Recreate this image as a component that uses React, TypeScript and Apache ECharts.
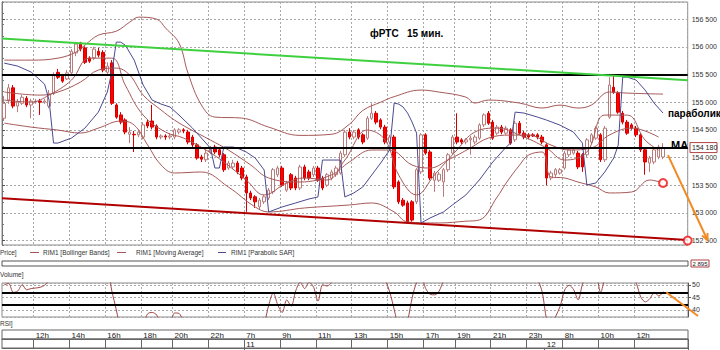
import React, { useEffect, useRef } from 'react';
import * as echarts from 'echarts';

const FONT = 'Liberation Sans, Arial, sans-serif';

// ---- time categories (15-minute bars) ----
const sessionDays = ['10', '11', '12'];
const sessionStarts = ['10:15', '07:00', '07:00'];
const sessionEnds = ['23:45', '23:45', '14:45'];
const clearingBar = '18:45';

const timeTicks = [
  '10 12:00', '10 14:00', '10 16:00', '10 18:00', '10 20:00', '10 22:00',
  '11 07:00', '11 09:00', '11 11:00', '11 13:00', '11 15:00', '11 17:00', '11 19:00', '11 21:00', '11 23:00',
  '12 08:00', '12 10:00', '12 12:00',
];
const dayTicks = ['11 07:00', '12 07:00'];

// ---- candles ----
const open = [
  154710, 155040, 155260, 154930, 154980, 155070, 154950, 155000, 155020, 155000,
  154930, 155160, 155540, 155470, 155420, 155530, 155890, 156070, 155980, 155800,
  155800, 155920, 155900, 155540, 155710, 154950, 154770, 154680, 154420, 154420,
  154410, 154370, 154640, 154660, 154570, 154370, 154390, 154370, 154370, 154460,
  154500, 154460, 154370, 154230, 154010, 153960, 154100, 154190, 154140, 154050,
  153810, 153830, 153900, 153810, 153650, 153360, 153290, 153110, 153200, 153270,
  153380, 153690, 153810, 153410, 153690, 153630, 153450, 153830, 153740, 153690,
  153810, 153630, 153500, 153630, 153690, 153720, 154050, 154460, 154370, 154500,
  154410, 154350, 154710, 154800, 154680, 154550, 154280, 154370, 153560, 153230,
  153180, 153200, 153200, 153740, 154410, 154100, 153590, 153590, 153560, 153780,
  154080, 154370, 154320, 154280, 154320, 154280, 154350, 154590, 154800, 154640,
  154440, 154550, 154440, 154500, 154320, 154620, 154440, 154410, 154410, 154410,
  154370, 154230, 153630, 153690, 153720, 153810, 154050, 154080, 154080, 154050,
  154050, 154280, 154350, 154410, 153960, 154730, 155270, 155160, 154800, 154640,
  154590, 154530, 154410, 154140, 153900, 153920, 154010, 154010,
];
const close = [
  154980, 155260, 154930, 155000, 155090, 154950, 155020, 155020, 155000, 155020,
  155150, 155490, 155450, 155380, 155530, 155920, 156050, 155960, 155720, 155740,
  155960, 155850, 155580, 155650, 154980, 154730, 154640, 154460, 154460, 154410,
  154460, 154590, 154570, 154550, 154370, 154390, 154370, 154390, 154500, 154500,
  154480, 154280, 154230, 153990, 153970, 154080, 154170, 154100, 154050, 153780,
  153900, 153900, 153740, 153630, 153360, 153270, 153200, 153230, 153290, 153410,
  153780, 153810, 153500, 153540, 153450, 153450, 153830, 153630, 153630, 153810,
  153590, 153450, 153690, 153740, 153810, 154080, 154460, 154370, 154460, 154370,
  154280, 154710, 154800, 154640, 154550, 154280, 154370, 153470, 153200, 153140,
  152840, 152870, 153780, 154410, 154080, 153630, 153720, 153700, 153780, 154050,
  154370, 154280, 154280, 154320, 154350, 154370, 154590, 154770, 154620, 154350,
  154550, 154460, 154530, 154260, 154620, 154440, 154370, 154370, 154390, 154370,
  154280, 153630, 153720, 153780, 153780, 154080, 154140, 154140, 153830, 153830,
  154320, 154410, 154530, 153960, 154530, 155310, 155180, 154820, 154640, 154440,
  154530, 154410, 154140, 153920, 153990, 154140, 154190, 154180,
];
const low = [
  154660, 154970, 154890, 154820, 154950, 154910, 154710, 154970, 154770, 154970,
  154890, 155130, 155420, 155350, 155400, 155490, 155830, 155920, 155690, 155710,
  155760, 155810, 155540, 155510, 154950, 154700, 154600, 154420, 154260, 154100,
  154370, 154330, 154530, 154510, 154330, 154330, 154320, 154330, 154330, 154420,
  154440, 154240, 154190, 153960, 153920, 153920, 154060, 154060, 154010, 153740,
  153780, 153790, 153700, 153590, 153020, 153230, 153090, 153070, 153160, 153230,
  153340, 153650, 153470, 153380, 153410, 153410, 153410, 153590, 153590, 153650,
  153560, 153410, 153470, 153590, 153650, 153690, 154010, 154330, 154330, 154330,
  154240, 154320, 154680, 154600, 154510, 154240, 154240, 153430, 153160, 153110,
  152820, 152840, 153160, 153700, 154050, 153590, 153380, 153560, 153290, 153740,
  154050, 154240, 154240, 154240, 154050, 154240, 154320, 154550, 154590, 154320,
  154410, 154420, 154410, 154230, 154280, 154410, 154330, 154330, 154370, 154330,
  154240, 153500, 153590, 153650, 153690, 153780, 154010, 154050, 153790, 153740,
  154010, 154240, 154320, 153920, 153920, 154700, 155150, 154790, 154600, 154410,
  154500, 154370, 154100, 153690, 153740, 153880, 153970, 153970,
];
const high = [
  155110, 155330, 155310, 155060, 155130, 155110, 155060, 155060, 155060, 155060,
  155220, 155540, 155600, 155510, 155580, 155960, 156090, 156090, 156010, 155830,
  156000, 155980, 155940, 155720, 155760, 154980, 154820, 154710, 154550, 154480,
  154510, 154640, 154680, 154950, 154600, 154420, 154420, 154440, 154530, 154530,
  154530, 154500, 154410, 154260, 154050, 154140, 154210, 154230, 154170, 154080,
  153940, 153960, 153940, 153850, 153690, 153400, 153320, 153270, 153320, 153450,
  153810, 153850, 153850, 153580, 153720, 153670, 153870, 153870, 153780, 153850,
  153850, 153670, 153720, 153780, 153850, 154120, 154500, 154530, 154500, 154530,
  154440, 154750, 154980, 154840, 154710, 154590, 154410, 154410, 153590, 153270,
  153220, 153230, 153810, 154440, 154440, 154140, 153760, 153740, 153810, 154080,
  154410, 154800, 154350, 154350, 154390, 154410, 154620, 154800, 154840, 154680,
  154590, 154590, 154570, 154530, 154660, 154660, 154480, 154440, 154440, 154440,
  154410, 154260, 153760, 153810, 153810, 154120, 154170, 154170, 154120, 154080,
  154350, 154440, 154570, 154440, 154570, 155450, 155490, 155200, 154840, 154680,
  154620, 154570, 154440, 154170, 154030, 154170, 154230, 154260,
];

// ---- indicators (read at sample bars) ----
const bbUpperBars = [0, 6, 12, 16, 18, 21, 25, 28, 30, 34, 36, 39, 41, 44, 47, 53, 59, 66, 73, 77, 80, 84, 87, 93, 97, 103, 105, 108, 115, 120, 124, 128, 131, 135, 139, 147];
const bbUpper = [155760, 155760, 155796, 155904, 156031, 156211, 156283, 156446, 156536, 156500, 156338, 156067, 155526, 154948, 154731, 154713, 154550, 154400, 154420, 154600, 154850, 155000, 155100, 155219, 155183, 155092, 154984, 155038, 154984, 154894, 154948, 154894, 154948, 155183, 155164, 155146];
const bbMidBars = [0, 8, 12, 17, 21, 25, 28, 31, 35, 38, 41, 46, 50, 55, 59, 66, 73, 77, 82, 86, 91, 95, 99, 104, 108, 113, 117, 122, 126, 131, 135, 140, 146];
const bbMid = [155183, 155128, 155183, 155363, 155580, 155616, 155489, 155128, 154858, 154677, 154532, 154316, 154136, 153865, 153631, 153558, 153685, 153919, 154136, 154136, 153865, 153811, 153955, 154172, 154352, 154406, 154406, 154226, 154136, 154172, 154406, 154532, 154370];
const bbLowerBars = [0, 6, 12, 17, 21, 26, 29, 32, 35, 38, 44, 50, 56, 59, 67, 77, 82, 87, 90, 97, 103, 106, 110, 112, 115, 117, 120, 122, 125, 128, 132, 135, 140, 144, 147];
const bbLower = [154622, 154550, 154496, 154442, 154532, 154659, 154586, 154226, 153865, 153721, 153739, 153468, 153107, 153017, 153089, 153143, 153179, 153017, 152836, 152818, 152850, 152872, 153288, 153540, 153865, 154045, 154100, 153649, 153631, 153558, 153468, 153360, 153378, 153594, 153540];
const maBars = [0, 6, 10, 15, 19, 24, 27, 31, 36, 40, 45, 49, 54, 58, 63, 67, 72, 76, 81, 85, 88, 92, 96, 101, 105, 110, 115, 121, 125, 130, 134, 139, 143, 146];
const maValues = [155038, 155002, 155128, 155399, 155796, 155796, 155309, 154767, 154460, 154352, 154136, 153919, 153594, 153324, 153540, 153631, 153594, 153955, 154496, 154316, 153685, 153324, 153685, 154136, 154460, 154532, 154406, 154172, 153955, 154100, 154767, 154767, 154316, 154136];
const sarBars = [0, 3, 6, 9, 10, 11, 12, 15, 18, 21, 23, 24, 25, 26, 27, 29, 31, 33, 35, 37, 39, 42, 45, 46, 47, 48, 49, 51, 52, 54, 56, 58, 59, 62, 65, 68, 70, 71, 75, 76, 78, 80, 82, 84, 86, 87, 88, 89, 90, 91, 92, 93, 95, 98, 100, 103, 106, 109, 112, 113, 114, 116, 119, 121, 124, 127, 129, 130, 132, 134, 136, 137, 138, 139, 141, 143, 145, 147];
const sarValues = [155706, 155652, 155544, 155327, 155038, 154262, 154262, 154352, 154532, 154821, 155183, 155544, 156085, 156085, 156031, 155760, 155309, 155038, 154966, 154912, 154767, 154532, 154262, 154172, 153811, 153811, 154190, 154190, 154172, 154100, 153991, 153775, 153017, 153107, 153179, 153252, 153288, 153955, 153955, 153288, 153360, 153468, 153685, 153901, 154136, 154984, 154966, 154912, 154803, 154641, 154442, 152818, 152908, 153017, 153143, 153324, 153594, 153919, 154190, 154262, 154821, 154803, 154731, 154677, 154586, 154460, 154262, 153504, 153540, 153739, 153991, 154226, 155453, 155453, 155399, 155219, 154984, 154803];
const rsiBars = [0, 1, 2, 3, 4, 5, 6, 7, 8, 9, 10, 11, 15, 20, 23, 24, 25, 26, 28, 31, 32, 33, 34, 35, 37, 38, 39, 40, 41, 45, 50, 55, 57, 58, 59, 60, 61, 62, 63, 64, 65, 66, 67, 68, 69, 70, 71, 72, 73, 74, 84, 85, 86, 87, 88, 89, 90, 91, 92, 93, 94, 95, 96, 97, 98, 99, 118, 119, 120, 121, 122, 123, 124, 125, 126, 127, 128, 129, 130, 132, 133, 134, 135, 140, 141, 142, 143, 144, 145, 146, 147];
const rsiValues = [50, 50.5, 47, 47.5, 50, 48, 48.5, 48.7, 49, 49.8, 52, 57, 60, 58, 55, 47.5, 40, 33, 30, 35, 38.5, 39, 38, 34, 35, 38.8, 38.6, 35, 31, 28, 30, 28, 33, 35, 42, 46.8, 42, 39, 44, 41.5, 47.5, 51, 48.5, 51, 49, 43.5, 50, 49.5, 51, 54, 56, 52, 47, 40, 33, 31, 36, 45, 51, 53, 48.5, 46.2, 46, 47.5, 52, 56, 55, 52, 47, 36, 33, 37.5, 41.5, 48, 49.8, 48, 44, 50.5, 54, 53, 47, 53, 57, 54, 50.5, 45, 43.2, 44.5, 47, 45.5, 47.3];
const rsiLevels = [47, 42.1];

// ---- drawn objects (data coordinates: bar position, price) ----
const greenTrend = [[0, 156150], [153, 155395]];
const redTrend = [[0, 153265], [153, 152510]];
const priceLevels = [155500, 154180];
const lastPrice = 154180;
const volumeLast = '2 895';
const circles = [[147.5, 153540], [153, 152500]];
const arrowMain = [[148.6, 154045], [157.4, 152510]];
const arrowRsi = [[148.2, 47.0], [155.3, 37.6]];

function buildCategories(): string[] {
  const out: string[] = [];
  sessionDays.forEach((d, k) => {
    const [fh, fm] = sessionStarts[k].split(':').map(Number);
    const [th, tm] = sessionEnds[k].split(':').map(Number);
    for (let t = fh * 60 + fm; t <= th * 60 + tm; t += 15) {
      const time = `${String(Math.floor(t / 60)).padStart(2, '0')}:${String(t % 60).padStart(2, '0')}`;
      if (time === clearingBar) continue;
      out.push(`${d} ${time}`);
    }
  });
  return out;
}

const pairs = (xs: number[], ys: number[]) => xs.map((x, i) => [x, ys[i]]);
const priceFmt = (v: number) => `${Math.floor(v / 1000)} ${String(Math.round(v % 1000)).padStart(3, '0')}`;

export default function App() {
  const ref = useRef<HTMLDivElement>(null);
  useEffect(() => {
    const el = ref.current!;
    const chart = echarts.init(el, null, { renderer: 'svg' });
    const categories = buildCategories();
    const tickSet = new Set(timeTicks);
    const daySet = new Set(dayTicks);
    const isTick = (_i: number, v: string) => tickSet.has(v);
    const isDay = (_i: number, v: string) => daySet.has(v);
    const L = 2, W = 686;
    const gridLine = { show: true, lineStyle: { color: '#a8a8a8', type: [2, 2] as any, width: 1 } };
    const hiddenCat = (gridIndex: number, split: boolean) => ({
      type: 'category', gridIndex, data: categories, boundaryGap: true,
      axisLine: { show: false }, axisTick: { show: false }, axisLabel: { show: false },
      splitLine: split ? { ...gridLine, interval: isTick } : { show: false },
    });
    const brown = '#a65858';

    const option: any = {
      animation: false,
      backgroundColor: '#ffffff',
      grid: [
        { left: L, width: W, top: 2, height: 243, show: true, borderColor: '#8c8c8c', borderWidth: 1, backgroundColor: '#fff' },
        { left: L, width: W, top: 261, height: 5, show: true, borderColor: '#555', borderWidth: 1 },
        { left: L, width: W, top: 283, height: 34, show: true, borderColor: '#8c8c8c', borderWidth: 1 },
        { left: L, width: W, top: 330, height: 9, show: true, borderColor: '#666', borderWidth: 1 },
        { left: L, width: W, top: 339, height: 9, show: true, borderColor: '#666', borderWidth: 1 },
      ],
      xAxis: [
        hiddenCat(0, true),
        { type: 'value', gridIndex: 0, min: 0, max: 153, show: false },
        hiddenCat(2, true),
        hiddenCat(1, false),
        {
          type: 'category', gridIndex: 3, data: categories, boundaryGap: true, position: 'top',
          axisLine: { show: true, lineStyle: { color: '#666' } },
          axisTick: { show: true, inside: true, length: 9, interval: isTick, lineStyle: { color: '#666' } },
          axisLabel: { show: true, inside: true, interval: isTick, margin: 1, align: 'left', fontSize: 8, color: '#222', fontFamily: FONT,
            formatter: (v: string) => `${Number(v.slice(3, 5))}h` },
          splitLine: { show: false },
        },
        {
          type: 'category', gridIndex: 4, data: categories, boundaryGap: true, position: 'top',
          axisLine: { show: true, lineStyle: { color: '#666' } },
          axisTick: { show: true, inside: true, length: 9, interval: isDay, lineStyle: { color: '#666' } },
          axisLabel: { show: true, inside: true, interval: isDay, margin: 1, align: 'left', fontSize: 8, color: '#222', fontFamily: FONT,
            formatter: (v: string) => v.slice(0, 2) },
          splitLine: { show: false },
        },
      ],
      yAxis: [
        {
          type: 'value', gridIndex: 0, position: 'right', min: 152420, max: 156810, minInterval: 500, maxInterval: 500, splitNumber: 9,
          axisLine: { show: true, lineStyle: { color: '#555' } },
          axisTick: { show: true, length: 3, lineStyle: { color: '#555' } },
          axisLabel: { show: true, showMinLabel: false, showMaxLabel: false, margin: 4, fontSize: 7, color: '#333', fontFamily: FONT, formatter: priceFmt },
          splitLine: gridLine,
        },
        {
          type: 'value', gridIndex: 2, position: 'right', min: 37.2, max: 50.7, minInterval: 5, maxInterval: 5,
          axisLine: { show: true, lineStyle: { color: '#555' } },
          axisTick: { show: true, length: 3, lineStyle: { color: '#555' } },
          axisLabel: { show: true, showMinLabel: false, showMaxLabel: false, margin: 4, fontSize: 7, color: '#333', fontFamily: FONT },
          splitLine: gridLine,
        },
        { type: 'value', gridIndex: 1, show: false },
        { type: 'value', gridIndex: 3, show: false },
        { type: 'value', gridIndex: 4, show: false },
        {
          type: 'value', gridIndex: 0, position: 'left', min: 152420, max: 156810, minInterval: 200, maxInterval: 200, splitNumber: 20,
          axisLine: { show: true, lineStyle: { color: '#777' } },
          axisTick: { show: true, inside: true, length: 2, lineStyle: { color: '#777' } },
          axisLabel: { show: false }, splitLine: { show: false },
        },
      ],
      series: [
        {
          type: 'candlestick', xAxisIndex: 0, yAxisIndex: 0, barWidth: 3, z: 3,
          data: open.map((o, i) => [o, close[i], low[i], high[i]]),
          itemStyle: { color: '#ffffff', color0: '#ff0000', borderColor: '#b97c7c', borderColor0: '#d40000', borderWidth: 1 },
        },
        { type: 'line', name: 'upper', xAxisIndex: 0, yAxisIndex: 0, data: pairs(bbUpperBars, bbUpper), smooth: 0.4, showSymbol: false, lineStyle: { color: brown, width: 1 }, z: 4 },
        { type: 'line', name: 'mid', xAxisIndex: 0, yAxisIndex: 0, data: pairs(bbMidBars, bbMid), smooth: 0.4, showSymbol: false, lineStyle: { color: brown, width: 1 }, z: 4 },
        { type: 'line', name: 'lower', xAxisIndex: 0, yAxisIndex: 0, data: pairs(bbLowerBars, bbLower), smooth: 0.4, showSymbol: false, lineStyle: { color: brown, width: 1 }, z: 4 },
        { type: 'line', name: 'ma', xAxisIndex: 0, yAxisIndex: 0, data: pairs(maBars, maValues), smooth: 0.4, showSymbol: false, lineStyle: { color: brown, width: 1 }, z: 4 },
        { type: 'line', name: 'sar', xAxisIndex: 0, yAxisIndex: 0, data: pairs(sarBars, sarValues), showSymbol: false, lineStyle: { color: '#4a4a90', width: 1 }, z: 4 },
        {
          type: 'line', xAxisIndex: 1, yAxisIndex: 0, data: greenTrend, showSymbol: false, lineStyle: { color: '#3fd03f', width: 2 }, z: 5,
          markLine: { silent: true, symbol: 'none', label: { show: false }, lineStyle: { color: '#000', width: 2, type: 'solid' }, data: priceLevels.map((p) => ({ yAxis: p })) },
        },
        { type: 'line', xAxisIndex: 1, yAxisIndex: 0, data: redTrend, showSymbol: false, lineStyle: { color: '#b00000', width: 2 }, z: 5 },
        {
          type: 'scatter', xAxisIndex: 1, yAxisIndex: 0, data: circles, symbol: 'circle', symbolSize: 8, clip: false, z: 6,
          itemStyle: { color: '#ffffff', borderColor: '#ee1111', borderWidth: 2 },
        },
        {
          type: 'line', xAxisIndex: 2, yAxisIndex: 1, data: pairs(rsiBars, rsiValues), smooth: 0.3, showSymbol: false, lineStyle: { color: '#a04848', width: 1 }, z: 4,
          markLine: { silent: true, symbol: 'none', label: { show: false }, lineStyle: { color: '#000', width: 2, type: 'solid' }, data: rsiLevels.map((p) => ({ yAxis: p })) },
        },
      ],
    };
    chart.setOption(option);

    const toPx = (p: number[]) => chart.convertToPixel({ xAxisIndex: 1, yAxisIndex: 0 } as any, p) as number[];
    const xPx = (v: number) => chart.convertToPixel({ xAxisIndex: 1 } as any, v) as number;
    const rsiY = (v: number) => chart.convertToPixel({ yAxisIndex: 1 } as any, v) as number;
    const text = (x: number, y: number, t: string, s: any = {}) => ({
      type: 'text', x, y, silent: true, z: 100,
      style: { text: t, fill: '#333', fontSize: 6.5, fontFamily: FONT, verticalAlign: 'middle', align: 'left', ...s },
    });
    const seg = (a: number[], b: number[], stroke: string, lineWidth: number) => ({
      type: 'line', silent: true, z: 100, shape: { x1: a[0], y1: a[1], x2: b[0], y2: b[1] }, style: { stroke, lineWidth },
    });
    const arrowHead = (a: number[], b: number[], stroke: string) => {
      const ang = Math.atan2(b[1] - a[1], b[0] - a[0]);
      const len = 7;
      const p1 = [b[0] - len * Math.cos(ang - 0.45), b[1] - len * Math.sin(ang - 0.45)];
      const p2 = [b[0] - len * Math.cos(ang + 0.45), b[1] - len * Math.sin(ang + 0.45)];
      return { type: 'polyline', silent: true, z: 100, shape: { points: [p1, b, p2] }, style: { stroke, lineWidth: 2, fill: 'none' } };
    };
    const a0 = toPx(arrowMain[0]);
    const a1 = toPx(arrowMain[1]);
    const r0 = [xPx(arrowRsi[0][0]), rsiY(arrowRsi[0][1])];
    const r1 = [xPx(arrowRsi[1][0]), rsiY(arrowRsi[1][1])];
    const lp = toPx([153, lastPrice]);
    const orange = '#f28a24';

    chart.setOption({
      graphic: [
        text(370, 33, 'фРТС   15 мин.', { fontSize: 10, fontWeight: 'bold', fill: '#000' }),
        text(668, 113, 'параболик', { fontSize: 10, fontWeight: 'bold', fill: '#000' }),
        text(671, 145, 'МА', { fontSize: 11, fontWeight: 'bold', fill: '#000' }),
        seg(a0, a1, orange, 2),
        arrowHead(a0, a1, orange),
        seg(r0, r1, orange, 2),
        { type: 'rect', silent: true, z: 99, shape: { x: 690, y: lp[1] - 5, width: 27, height: 10 }, style: { fill: '#fff', stroke: '#b04040', lineWidth: 1 } },
        text(692, lp[1], priceFmt(lastPrice), { fontSize: 7, fill: '#222' }),
        { type: 'rect', silent: true, z: 99, shape: { x: 691, y: 260, width: 18, height: 7 }, style: { fill: '#fff', stroke: '#b04040', lineWidth: 1 } },
        text(692.5, 263.5, volumeLast, { fontSize: 6, fill: '#222' }),
        text(0, 252.5, 'Price]'),
        seg([30, 252.5], [39, 252.5], brown, 1),
        text(43, 252.5, 'RIM1 [Bollinger Bands]'),
        seg([117, 252.5], [126, 252.5], brown, 1),
        text(136, 252.5, 'RIM1 [Moving Average]'),
        seg([218, 252.5], [226, 252.5], '#4a4a90', 1),
        text(231, 252.5, 'RIM1 [Parabolic SAR]'),
        text(0, 274.5, 'Volume]'),
        text(0, 323, 'RSI]'),
      ],
    });
    return () => chart.dispose();
  }, []);
  return <div ref={ref} style={{ position: 'fixed', left: 0, top: 0, width: 720, height: 350 }} />;
}
